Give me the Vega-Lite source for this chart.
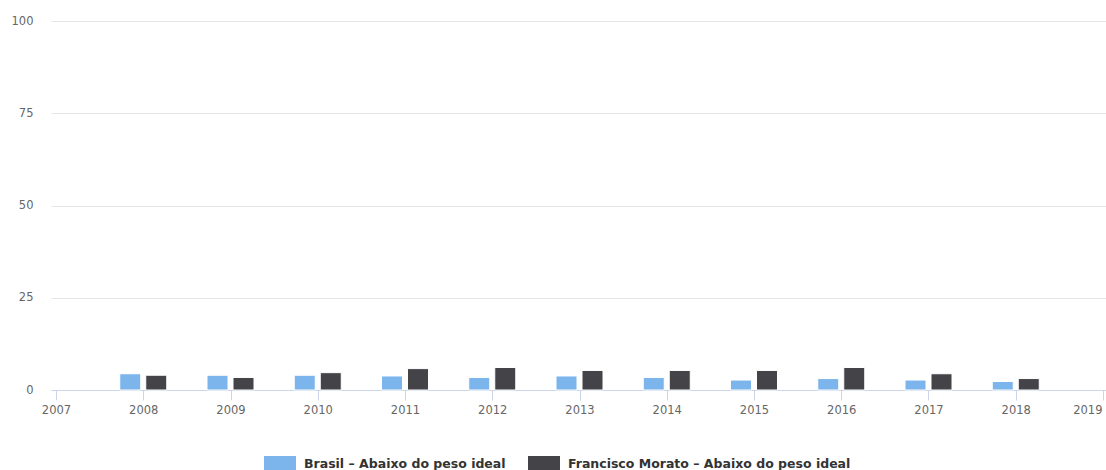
{
  "$schema": "https://vega.github.io/schema/vega-lite/v6.json",
  "width": 1057,
  "height": 369,
  "autosize": "none",
  "padding": {"left": 51, "top": 21, "right": 0, "bottom": 80},
  "background": "#ffffff",
  "config": {
    "view": {"stroke": null},
    "font": "DejaVu Sans"
  },
  "data": {
    "values": [
      {"year": 2008, "serie": "Brasil – Abaixo do peso ideal", "value": 4.4},
      {"year": 2009, "serie": "Brasil – Abaixo do peso ideal", "value": 4.0},
      {"year": 2010, "serie": "Brasil – Abaixo do peso ideal", "value": 4.0},
      {"year": 2011, "serie": "Brasil – Abaixo do peso ideal", "value": 3.8},
      {"year": 2012, "serie": "Brasil – Abaixo do peso ideal", "value": 3.4},
      {"year": 2013, "serie": "Brasil – Abaixo do peso ideal", "value": 3.8},
      {"year": 2014, "serie": "Brasil – Abaixo do peso ideal", "value": 3.4},
      {"year": 2015, "serie": "Brasil – Abaixo do peso ideal", "value": 2.7},
      {"year": 2016, "serie": "Brasil – Abaixo do peso ideal", "value": 3.1},
      {"year": 2017, "serie": "Brasil – Abaixo do peso ideal", "value": 2.7},
      {"year": 2018, "serie": "Brasil – Abaixo do peso ideal", "value": 2.3},
      {"year": 2008, "serie": "Francisco Morato – Abaixo do peso ideal", "value": 4.0},
      {"year": 2009, "serie": "Francisco Morato – Abaixo do peso ideal", "value": 3.4},
      {"year": 2010, "serie": "Francisco Morato – Abaixo do peso ideal", "value": 4.7},
      {"year": 2011, "serie": "Francisco Morato – Abaixo do peso ideal", "value": 5.8},
      {"year": 2012, "serie": "Francisco Morato – Abaixo do peso ideal", "value": 6.1},
      {"year": 2013, "serie": "Francisco Morato – Abaixo do peso ideal", "value": 5.3},
      {"year": 2014, "serie": "Francisco Morato – Abaixo do peso ideal", "value": 5.3},
      {"year": 2015, "serie": "Francisco Morato – Abaixo do peso ideal", "value": 5.3},
      {"year": 2016, "serie": "Francisco Morato – Abaixo do peso ideal", "value": 6.1},
      {"year": 2017, "serie": "Francisco Morato – Abaixo do peso ideal", "value": 4.4},
      {"year": 2018, "serie": "Francisco Morato – Abaixo do peso ideal", "value": 3.1}
    ]
  },
  "encoding": {
    "x": {
      "field": "year",
      "type": "quantitative",
      "scale": {"domain": [2007, 2019], "nice": false, "zero": false},
      "axis": {
        "title": null,
        "values": [2007, 2008, 2009, 2010, 2011, 2012, 2013, 2014, 2015, 2016, 2017, 2018, 2019],
        "format": "d",
        "grid": false,
        "domainColor": "#ccd6eb",
        "tickColor": "#ccd6eb",
        "tickSize": 10,
        "labelPadding": 4,
        "labelColor": "#666666",
        "labelFontSize": 11.5,
        "labelFlush": false,
        "labelBound": false,
        "labelAlign": {"condition": {"test": "datum.value == 2019", "value": "right"}, "value": "center"},
        "labelOffset": {"condition": {"test": "datum.value == 2019", "value": -1}, "value": 0}
      }
    },
    "y": {
      "field": "value",
      "type": "quantitative",
      "scale": {"domain": [0, 100], "nice": false},
      "axis": {
        "title": null,
        "values": [0, 25, 50, 75, 100],
        "domain": false,
        "ticks": false,
        "gridColor": "#e6e6e6",
        "labelPadding": 18,
        "labelColor": "#666666",
        "labelFontSize": 11.5
      }
    },
    "color": {
      "field": "serie",
      "type": "nominal",
      "scale": {
        "domain": ["Brasil – Abaixo do peso ideal", "Francisco Morato – Abaixo do peso ideal"],
        "range": ["#7cb5ec", "#434348"]
      },
      "legend": {
        "title": null,
        "orient": "none",
        "direction": "horizontal",
        "legendX": 213,
        "legendY": 427,
        "symbolType": "M-1,-0.5H1V0.5H-1Z",
        "symbolSize": 1024,
        "symbolStrokeWidth": 0,
        "symbolOpacity": 1,
        "labelFontSize": 12.5,
        "labelFontWeight": "bold",
        "labelColor": "#333333",
        "labelOffset": 8,
        "columnPadding": 22,
        "labelLimit": 400
      }
    }
  },
  "layer": [
    {
      "transform": [{"filter": "datum.serie == 'Brasil – Abaixo do peso ideal'"}],
      "mark": {"type": "bar", "width": 21, "xOffset": -13, "stroke": "#ffffff", "strokeWidth": 1}
    },
    {
      "transform": [{"filter": "datum.serie == 'Francisco Morato – Abaixo do peso ideal'"}],
      "mark": {"type": "bar", "width": 21, "xOffset": 13, "stroke": "#ffffff", "strokeWidth": 1}
    }
  ]
}
